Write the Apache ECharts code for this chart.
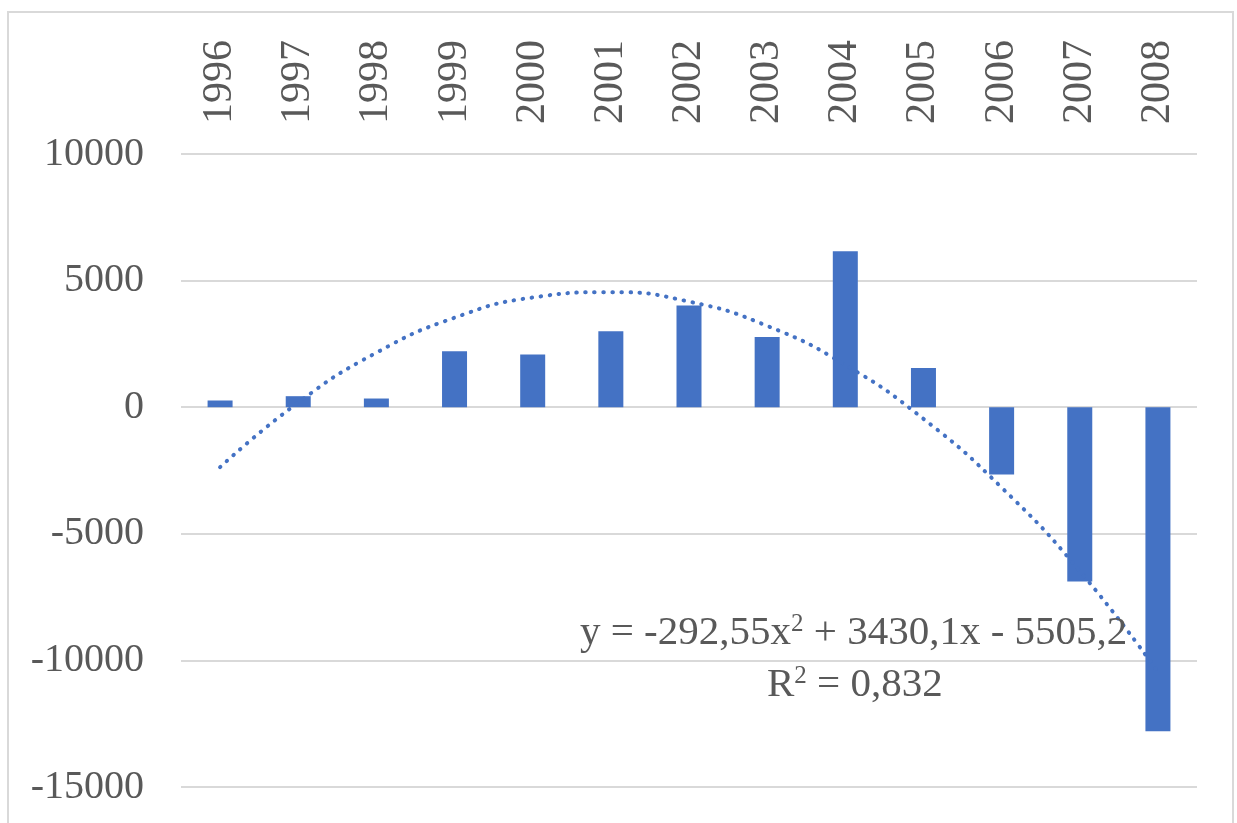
<!DOCTYPE html>
<html>
<head>
<meta charset="utf-8">
<script src="https://cdn.jsdelivr.net/npm/echarts@6/dist/echarts.min.js"></script>
<style>
    html, body { margin: 0; padding: 0; background: #ffffff; }
    #chart { width: 1237px; height: 823px; }
</style>
</head>
<body>
<div id="chart"></div>
<script>
const years = ['1996', '1997', '1998', '1999', '2000', '2001', '2002', '2003', '2004', '2005', '2006', '2007', '2008']
const values = [265, 435, 343, 2210, 2080, 3000, 4015, 2775, 6160, 1550, -2660, -6880, -12800]
// polynomial trendline as shown in the picture (read at each year)
const trendValues = [-2368, 185, 2152, 3534, 4332, 4544, 4171, 3212, 1669, -459, -3173, -6471, -10455]
const yTicks = { min: -15000, max: 10000, interval: 5000 }
const equationText = '{t|y = -292,55x}{s|2}{t| + 3430,1x - 5505,2}'
const r2Text = '{t|R}{s|2}{t| = 0,832}'

const textColor = '#595959'
const gridColor = '#d9d9d9'
const barColor = '#4472c4'
const font = '"Liberation Serif", "Times New Roman", serif'

const richStyle = {
    t: { fontFamily: font, fontSize: 41, fill: textColor },
    s: { fontFamily: font, fontSize: 25, fill: textColor, padding: [0, 0, 17, 0] },
}

const chart = echarts.init(document.getElementById('chart'))

chart.setOption({
    animation: false,
    grid: {
        top: 154,
        left: 181,
        right: 40,
        bottom: 36,
    },
    xAxis: {
        type: 'category',
        position: 'top',
        data: years,
        axisLine: { show: false },
        axisTick: { show: false },
        axisLabel: {
            rotate: 90,
            margin: 30,
            color: textColor,
            fontFamily: font,
            fontSize: 42,
        },
    },
    yAxis: {
        type: 'value',
        min: yTicks.min,
        max: yTicks.max,
        interval: yTicks.interval,
        axisLine: { show: false },
        axisTick: { show: false },
        axisLabel: {
            margin: 37,
            color: textColor,
            fontFamily: font,
            fontSize: 40,
            formatter: value => String(value),
        },
        splitLine: {
            lineStyle: { color: gridColor, width: 2 },
        },
    },
    graphic: [
        {
            type: 'rect',
            silent: true,
            shape: { x: 8, y: 12, width: 1225, height: 840 },
            style: { fill: 'none', stroke: gridColor, lineWidth: 2 },
        },
        {
            type: 'text',
            silent: true,
            z: 100,
            left: 580,
            top: 612,
            style: {
                text: equationText,
                fill: textColor,
                rich: richStyle,
            },
        },
        {
            type: 'text',
            silent: true,
            z: 100,
            left: 767,
            top: 664,
            style: {
                text: r2Text,
                fill: textColor,
                rich: richStyle,
            },
        },
    ],
    series: [
        {
            type: 'bar',
            data: values,
            barWidth: 25,
            itemStyle: { color: barColor },
        },
        {
            type: 'line',
            data: trendValues,
            smooth: true,
            showSymbol: false,
            z: 5,
            lineStyle: {
                color: barColor,
                width: 4,
                type: [0.5, 8.5],
                cap: 'round',
            },
        },
    ],
})
</script>
</body>
</html>
